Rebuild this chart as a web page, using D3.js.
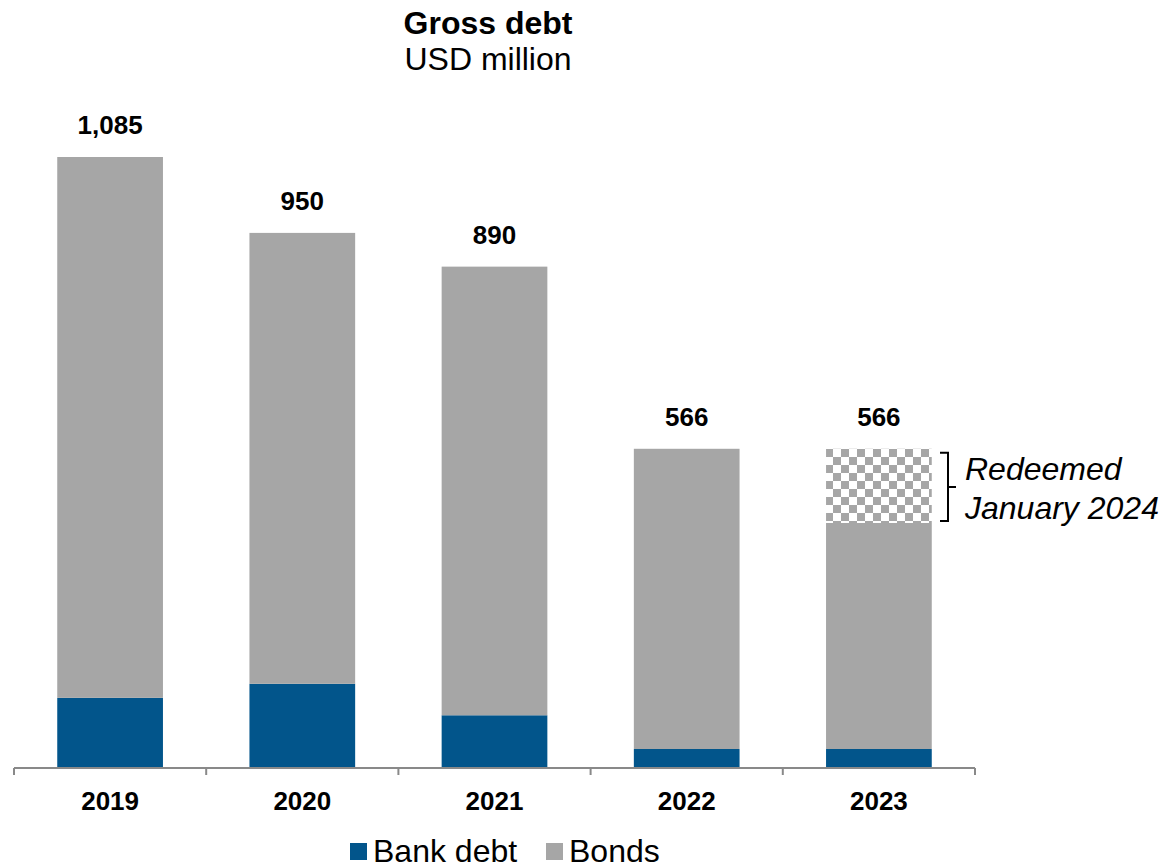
<!DOCTYPE html>
<html>
<head>
<meta charset="utf-8">
<script src="https://cdn.jsdelivr.net/npm/d3@7"></script>
<style>
  body { margin: 0; background: #fff; }
  #chart { width: 1161px; height: 865px; }
  text { font-family: "Liberation Sans", Arial, sans-serif; fill: #000; }
</style>
</head>
<body>
<div id="chart"></div>
<script>
var years = ["2019", "2020", "2021", "2022", "2023"];
var bankDebt = [123, 148, 92, 32, 32];
var bonds = [962, 802, 798, 534, 402];
var redeemed = [0, 0, 0, 0, 132];
var totals = [1085, 950, 890, 566, 566];

var width = 1161, height = 865;
var svg = d3.select("#chart").append("svg")
  .attr("width", width)
  .attr("height", height);

var defs = svg.append("defs");
var pat = defs.append("pattern")
  .attr("id", "checker")
  .attr("patternUnits", "userSpaceOnUse")
  .attr("width", 16).attr("height", 16)
  .attr("x", 825).attr("y", 449);
pat.append("rect").attr("width", 16).attr("height", 16).attr("fill", "#fff");
pat.append("rect").attr("width", 8).attr("height", 8).attr("fill", "#a6a6a6");
pat.append("rect").attr("x", 8).attr("y", 8).attr("width", 8).attr("height", 8).attr("fill", "#a6a6a6");

var x = d3.scaleBand()
  .domain(years)
  .range([14, 975])
  .paddingInner(0.45)
  .paddingOuter(0.225);

var y = d3.scaleLinear()
  .domain([0, 1085])
  .range([767, 157]);

var rows = years.map(function (yr, i) {
  return { year: yr, bank: bankDebt[i], bonds: bonds[i], redeemed: redeemed[i], total: totals[i] };
});

var stack = d3.stack().keys(["bank", "bonds", "redeemed"])(rows);
var fills = { bank: "#02558b", bonds: "#a6a6a6", redeemed: "url(#checker)" };

svg.selectAll("g.layer")
  .data(stack)
  .enter()
  .append("g")
  .attr("class", "layer")
  .attr("fill", function (d) { return fills[d.key]; })
  .selectAll("rect")
  .data(function (d) { return d.filter(function (p) { return p[1] > p[0]; }); })
  .enter()
  .append("rect")
  .attr("x", function (d) { return x(d.data.year); })
  .attr("width", x.bandwidth())
  .attr("y", function (d) { return y(d[1]); })
  .attr("height", function (d) { return y(d[0]) - y(d[1]); });

// value labels
svg.selectAll("text.total")
  .data(rows)
  .enter()
  .append("text")
  .attr("class", "total")
  .attr("x", function (d) { return x(d.year) + x.bandwidth() / 2; })
  .attr("y", function (d) { return y(d.total) - 23; })
  .attr("text-anchor", "middle")
  .attr("font-size", 26)
  .attr("font-weight", "bold")
  .text(function (d) { return d3.format(",")(d.total); });

// x axis
var step = x.step();
var ticks = d3.range(years.length + 1).map(function (i) { return 14 + i * step; });
var axis = svg.append("g").attr("stroke", "#898989").attr("stroke-width", 2);
axis.append("line").attr("x1", 14).attr("x2", 975).attr("y1", 768).attr("y2", 768);
axis.selectAll("line.tick")
  .data(ticks)
  .enter()
  .append("line")
  .attr("x1", function (d) { return d; })
  .attr("x2", function (d) { return d; })
  .attr("y1", 768).attr("y2", 775);

svg.selectAll("text.year")
  .data(years)
  .enter()
  .append("text")
  .attr("class", "year")
  .attr("x", function (d) { return x(d) + x.bandwidth() / 2; })
  .attr("y", 810)
  .attr("text-anchor", "middle")
  .attr("font-size", 26)
  .attr("font-weight", "bold")
  .text(function (d) { return d; });

// title
svg.append("text").attr("x", 488).attr("y", 34).attr("text-anchor", "middle")
  .attr("font-size", 32).attr("font-weight", "bold").text("Gross debt");
svg.append("text").attr("x", 488).attr("y", 70).attr("text-anchor", "middle")
  .attr("font-size", 32).text("USD million");

// bracket for redeemed part
var bTop = y(566) + 4, bBot = y(434) - 2, bMid = (bTop + bBot) / 2, bx = 948;
svg.append("path")
  .attr("d", "M" + (bx - 8) + "," + bTop + "H" + bx + "V" + bBot + "H" + (bx - 8) +
    "M" + bx + "," + bMid + "H" + (bx + 8))
  .attr("fill", "none")
  .attr("stroke", "#000")
  .attr("stroke-width", 2);
svg.append("text").attr("x", 965).attr("y", 480).attr("font-size", 32)
  .attr("font-style", "italic").text("Redeemed");
svg.append("text").attr("x", 965).attr("y", 519).attr("font-size", 32)
  .attr("font-style", "italic").text("January 2024");

// legend
var legend = [{ name: "Bank debt", color: "#02558b", x: 350 }, { name: "Bonds", color: "#a6a6a6", x: 546 }];
var lg = svg.selectAll("g.legend")
  .data(legend)
  .enter()
  .append("g")
  .attr("transform", function (d) { return "translate(" + d.x + ",843)"; });
lg.append("rect").attr("width", 17).attr("height", 17).attr("fill", function (d) { return d.color; });
lg.append("text").attr("x", 23).attr("y", 19).attr("font-size", 32)
  .text(function (d) { return d.name; });
</script>
</body>
</html>
